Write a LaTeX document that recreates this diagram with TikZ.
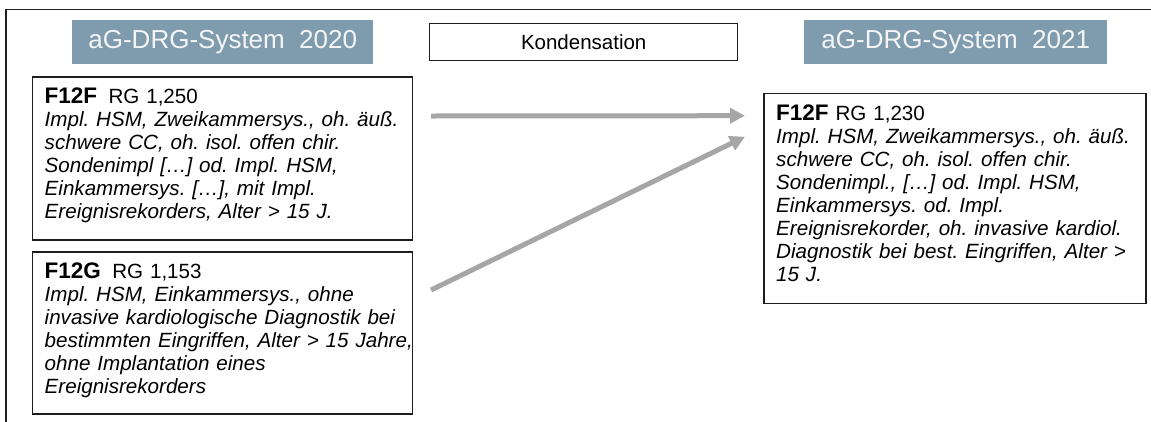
\documentclass[tikz,border=0pt]{standalone}
\usepackage{fontspec}
\setmainfont{Liberation Sans}
\usetikzlibrary{arrows.meta,calc}
\definecolor{titlefill}{RGB}{127,155,174}
\definecolor{titletext}{RGB}{245,245,245}
\definecolor{arrowgray}{RGB}{166,166,166}
\definecolor{frameline}{RGB}{30,30,30}
\frenchspacing

\begin{document}
\begin{tikzpicture}[x=1pt,y=-1pt,
  titlebox/.style={fill=titlefill, text=titletext, draw=none, anchor=north west,
    inner sep=0pt, font=\fontsize{26}{30}\selectfont},
  drgbox/.style={draw=frameline, line width=1.6pt, fill=white, anchor=north west, inner sep=0pt},
  drgtext/.style={anchor=north west, inner sep=0pt, align=left, text width=390pt,
    font=\fontsize{20.6}{23}\selectfont},
  flow/.style={draw=arrowgray, line width=5pt, -{Triangle[length=15pt,width=15pt]}}
]
\useasboundingbox (0,0) rectangle (1151,421);

% frame around the slide area
\draw[frameline, line width=1.5pt] (6,425) -- (6,9.5) -- (1155,9.5);

% headings
\node[titlebox, minimum width=301pt, minimum height=44.5pt] (t2020) at (72,19.5) {aG-DRG-System\hspace{0.55em}2020};
\node[titlebox, minimum width=303pt, minimum height=44pt] (t2021) at (804,19.5) {aG-DRG-System\hspace{0.55em}2021};
\node[drgbox, line width=1.4pt, minimum width=308pt, minimum height=37pt,
  font=\fontsize{20.5}{23}\selectfont] (kond) at (429,23) {Kondensation};

% DRG boxes
\node[drgbox, minimum width=380pt, minimum height=163pt] (old1) at (31.5,76) {};
\node[drgbox, minimum width=380pt, minimum height=162pt] (old2) at (31.5,251) {};
\node[drgbox, minimum width=382pt, minimum height=210pt] (new) at (763,92.7) {};

\node[drgtext] (old1txt) at ([shift={(13,12)}]old1.north west)
  {{\fontsize{22.5}{23}\selectfont\textbf{F12F}}\hspace{0.55em}RG 1,250\\
   \textit{Impl. HSM, Zweikammersys., oh. äuß.}\\
   \textit{schwere CC, oh. isol. offen chir.}\\
   \textit{Sondenimpl […] od. Impl. HSM,}\\
   \textit{Einkammersys. […], mit Impl.}\\
   \textit{Ereignisrekorders, Alter > 15 J.}};

\node[drgtext] (old2txt) at ([shift={(13,12)}]old2.north west)
  {{\fontsize{22.5}{23}\selectfont\textbf{F12G}}\hspace{0.55em}RG 1,153\\
   \textit{Impl. HSM, Einkammersys., ohne}\\
   \textit{invasive kardiologische Diagnostik bei}\\
   \textit{bestimmten Eingriffen, Alter > 15 Jahre,}\\
   \textit{ohne Implantation eines}\\
   \textit{Ereignisrekorders}};

\node[drgtext] (newtxt) at ([shift={(13,12)}]new.north west)
  {{\fontsize{22.5}{23}\selectfont\textbf{F12F}} RG 1,230\\
   \textit{Impl. HSM, Zweikammersys., oh. äuß.}\\
   \textit{schwere CC, oh. isol. offen chir.}\\
   \textit{Sondenimpl., […] od. Impl. HSM,}\\
   \textit{Einkammersys. od. Impl.}\\
   \textit{Ereignisrekorder, oh. invasive kardiol.}\\
   \textit{Diagnostik bei best. Eingriffen, Alter >}\\
   \textit{15 J.}};

% condensation arrows
\draw[flow] ([shift={(18,40)}]old1.north east) -- ([shift={(-18,23)}]new.north west);
\draw[flow] ([shift={(18,39)}]old2.north east) -- ([shift={(-18,44)}]new.north west);
\end{tikzpicture}
\end{document}
